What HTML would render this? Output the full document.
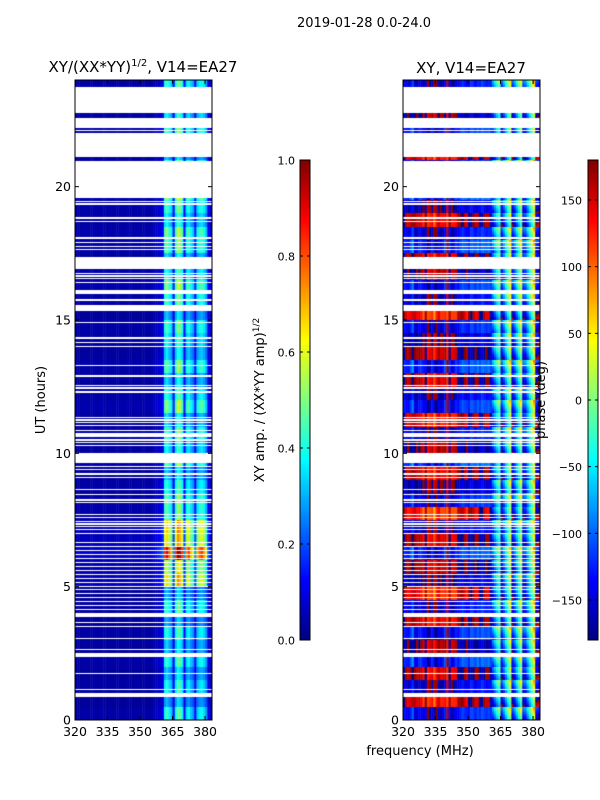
<!DOCTYPE html>
<html><head><meta charset="utf-8"><style>
body{margin:0;background:#fff;}
#wrap{position:relative;width:600px;height:800px;overflow:hidden;font-family:"DejaVu Sans","Liberation Sans",sans-serif;}
canvas{position:absolute;}
svg{position:absolute;left:0;top:0;}
</style></head><body>
<div id="wrap">
<canvas id="c1" width="137" height="640" style="left:75px;top:80px"></canvas>
<canvas id="c2" width="137" height="640" style="left:403px;top:80px"></canvas>
<canvas id="cb1" width="10" height="480" style="left:300px;top:160px"></canvas>
<canvas id="cb2" width="10" height="480" style="left:588px;top:160px"></canvas>
<svg id="ax" width="600" height="800">
<text x="364" y="27" font-size="13" text-anchor="middle">2019-01-28 0.0-24.0</text>
<text x="143" y="72" font-size="15" text-anchor="middle">XY/(XX*YY)<tspan font-size="10" dy="-6">1/2</tspan><tspan dy="6">, V14=EA27</tspan></text>
<text x="471" y="73" font-size="15" text-anchor="middle">XY, V14=EA27</text>
<text x="45" y="400" font-size="13" text-anchor="middle" transform="rotate(-90 45 400)">UT (hours)</text>
<text x="420" y="755" font-size="13" text-anchor="middle">frequency (MHz)</text>
<text x="264" y="400" font-size="13" text-anchor="middle" transform="rotate(-90 264 400)">XY amp. / (XX*YY amp)<tspan font-size="9" dy="-5">1/2</tspan></text>
<text x="545" y="400" font-size="13" text-anchor="middle" transform="rotate(-90 545 400)">phase (deg)</text>
</svg>
</div>
<script>
// ---- data ----
const yTicks = [0,5,10,15,20];
const xTicks = [320,335,350,365,380];
const ampTicks = [0.0,0.2,0.4,0.6,0.8,1.0];
const phaseTicks = [-150,-100,-50,0,50,100,150];
const channels = [320,321,322,323,324,325,326,327,328,329,330,331,332,333,334,335,336,337,338,339,340,341,342,343,344,345,346,347,348,349,350,351,352,353,354,355,356,357,358,359,360,361,362,363,364,365,366,367,368,369,370,371,372,373,374,375,376,377,378,379,380,381,382,383];
const ampChan = [0.03,0.035,0.03,0.035,0.04,0.035,0.03,0.035,0.04,0.035,0.03,0.035,0.04,0.035,0.03,0.035,0.04,0.035,0.03,0.035,0.04,0.035,0.03,0.035,0.04,0.035,0.03,0.035,0.04,0.035,0.03,0.035,0.04,0.035,0.03,0.04,0.05,0.06,0.07,0.08,0.1,
 0.36,0.4,0.34,0.3,0.12,0.36,0.45,0.42,0.36,0.12,0.32,0.36,0.3,0.26,0.12,0.3,0.34,0.36,0.32,0.26,0.1,0.06,0.05];
const ampHour = [0.95,0.95,0.9,0.9,1.0,1.6,1.9,1.6,1.05,1.0,1.05,1.1,1.0,1.0,1.0,1.05,1.1,1.0,1.15,1.1,1.0,1.0,1.0,1.0];
const phaseChan = [-150,-165,-175,-160,-140,-170,-178,-165,-170,170,-160,150,165,-175,150,160,-170,170,178,-165,140,-155,165,175,-175,-160,-150,-140,-155,-165,-150,-135,-145,-160,-150,-140,-130,-145,-155,-150,-140,
 -110,-80,-50,-20,-140,-100,-60,-20,20,-140,-110,-70,-30,10,-130,-120,-80,-40,0,40,-150,-160,-170];
const phaseHalf = [20,-30,10,-20,30,-10,25,-25,15,-35,5,-15,30,-20,10,-40,20,0,-25,35,-10,15,-30,25,10,-20,30,-15,0,20,-35,10,25,-10,-20,30,15,-25,5,35,-15,20,-30,10,25,-5,-20,15];
const flagStart = [22.76,22.2,22.08,21.98,21.11,19.58,19.41,19.33,18.84,18.77,18.66,18.09,18.02,17.87,17.72,17.64,16.91,16.74,16.63,16.52,16.37,15.98,15.73,15.34,14.87,14.34,14.27,14.12,13.97,13.29,12.88,12.54,12.43,12.28,
 11.31,11.23,11.12,11.04,10.82,10.61,10.48,10.37,10.29,9.64,9.47,9.36,9.24,9.17,9.09,8.61,8.42,8.23,8.12,7.67,7.56,7.44,7.33,7.22,7.11,6.99,6.62,6.47,6.32,6.17,6.02,5.87,5.72,5.57,5.42,5.27,5.12,4.97,4.86,4.71,4.56,4.41,4.26,4.11,3.86,3.62,3.47,3.02,2.61,2.36,1.74,1.11,0.86];
const flagEnd = [23.73,22.58,22.12,22.02,21.98,20.96,19.45,19.37,18.88,18.81,18.7,18.13,18.06,17.91,17.76,17.68,17.36,16.78,16.67,16.56,16.41,16.13,15.77,15.56,14.91,14.38,14.31,14.16,14.01,13.33,12.92,12.58,12.47,12.32,
 11.35,11.27,11.16,11.08,10.86,10.76,10.52,10.41,10.33,10.01,9.51,9.4,9.28,9.21,9.13,8.65,8.46,8.27,8.16,7.71,7.6,7.48,7.37,7.26,7.15,7.03,6.66,6.51,6.36,6.21,6.06,5.91,5.76,5.61,5.46,5.31,5.16,5.01,4.9,4.75,4.6,4.45,4.3,4.15,4.01,3.66,3.51,3.06,2.65,2.51,1.78,1.15,1.01];

// ---- scales ----
const T0=0,T1=24,F0=320,F1=383.2;
const yS = t => 720 - (t-T0)/(T1-T0)*640;
const xL = f => 75 + (f-F0)/(F1-F0)*137;
const xR = f => 403 + (f-F0)/(F1-F0)*137;
const ampY = v => 640 - v*480;
const phY = p => 640 - (p+180)/360*480;

function jet(v){v=Math.max(0,Math.min(1,v));const c=x=>Math.round(255*Math.max(0,Math.min(1,1.5-Math.abs(x))));return [c(4*v-3),c(4*v-2),c(4*v-1)];}
function wrap(p){while(p>180)p-=360;while(p<-180)p+=360;return p;}
function flagged(t){for(let i=0;i<flagStart.length;i++){if(t>=flagStart[i]&&t<=flagEnd[i])return true;}return false;}

const c1=document.getElementById('c1').getContext('2d');
const c2=document.getElementById('c2').getContext('2d');
for(let py=0;py<640;py++){
  const t=(640-(py+0.5))/640*24;
  if(flagged(t)) continue;
  const h=Math.min(23,Math.floor(t)), k=Math.min(47,Math.floor(t*2)), frac=t*2-k;
  for(let i=0;i<channels.length;i++){
    const xa=xL(channels[i])-75, xb=xL(channels[i]+1)-75;
    const a=ampChan[i]*ampHour[h]*(1+phaseHalf[k]/150);
    let col=jet(a);
    c1.fillStyle=`rgb(${col[0]},${col[1]},${col[2]})`;
    c1.fillRect(xa,py,xb-xa+0.5,1);
    let p;
    if(channels[i]<361) p=wrap(phaseChan[i]+phaseHalf[k]*(1+(i%5)/4));
    else p=wrap(phaseChan[i]+0.6*phaseHalf[k]+(frac*2-1)*40);
    col=jet((p+180)/360);
    c2.fillStyle=`rgb(${col[0]},${col[1]},${col[2]})`;
    c2.fillRect(xa,py,xb-xa+0.5,1);
  }
}
// colorbars
const b1=document.getElementById('cb1').getContext('2d');
const b2=document.getElementById('cb2').getContext('2d');
for(let y=0;y<480;y++){const v=1-(y+0.5)/480;const c=jet(v);b1.fillStyle=b2.fillStyle=`rgb(${c[0]},${c[1]},${c[2]})`;b1.fillRect(0,y,10,1);b2.fillRect(0,y,10,1);}

// axes
const svg=document.getElementById('ax');
const NS='http://www.w3.org/2000/svg';
function mk(tag,attrs,name){const e=document.createElementNS(NS,tag);for(const k in attrs)e.setAttribute(k,attrs[k]);


svg.appendChild(e);return e;}
[[75,xL],[403,xR]].forEach(([x0,xs],pi)=>{
  mk('rect',{x:x0,y:80,width:137,height:640,fill:'none',stroke:'#000','stroke-width':1},'panel-frame');
  yTicks.forEach(v=>{const y=yS(v);
    mk('line',{x1:x0,x2:x0+4,y1:y,y2:y,stroke:'#000'},'y-tick');
    mk('line',{x1:x0+137,x2:x0+133,y1:y,y2:y,stroke:'#000'},'y-tick');
    const t=mk('text',{x:x0-4,y:y+4.5,'font-size':12.5,'text-anchor':'end'},'y-tick-label');t.textContent=v;});
  xTicks.forEach(v=>{const x=xs(v);
    mk('line',{x1:x,x2:x,y1:720,y2:716,stroke:'#000'},'x-tick');
    mk('line',{x1:x,x2:x,y1:80,y2:84,stroke:'#000'},'x-tick');
    const t=mk('text',{x:x,y:736,'font-size':12.5,'text-anchor':'middle'},'x-tick-label');t.textContent=v;});
});
mk('rect',{x:300,y:160,width:10,height:480,fill:'none',stroke:'#000'},'amplitude-colorbar-frame');
ampTicks.forEach(v=>{const y=ampY(v);
  mk('line',{x1:300,x2:303,y1:y,y2:y,stroke:'#000'},'colorbar-tick');
  mk('line',{x1:310,x2:307,y1:y,y2:y,stroke:'#000'},'colorbar-tick');
  const t=mk('text',{x:295,y:y+4.5,'font-size':11,'text-anchor':'end'},'colorbar-tick-label');t.textContent=v.toFixed(1);});
mk('rect',{x:588,y:160,width:10,height:480,fill:'none',stroke:'#000'},'phase-colorbar-frame');
phaseTicks.forEach(v=>{const y=phY(v);
  mk('line',{x1:588,x2:591,y1:y,y2:y,stroke:'#000'},'colorbar-tick');
  mk('line',{x1:598,x2:595,y1:y,y2:y,stroke:'#000'},'colorbar-tick');
  const t=mk('text',{x:582,y:y+4.5,'font-size':11,'text-anchor':'end'},'colorbar-tick-label');t.textContent=(v<0?'\u2212'+(-v):v);});
</script>
</body></html>
